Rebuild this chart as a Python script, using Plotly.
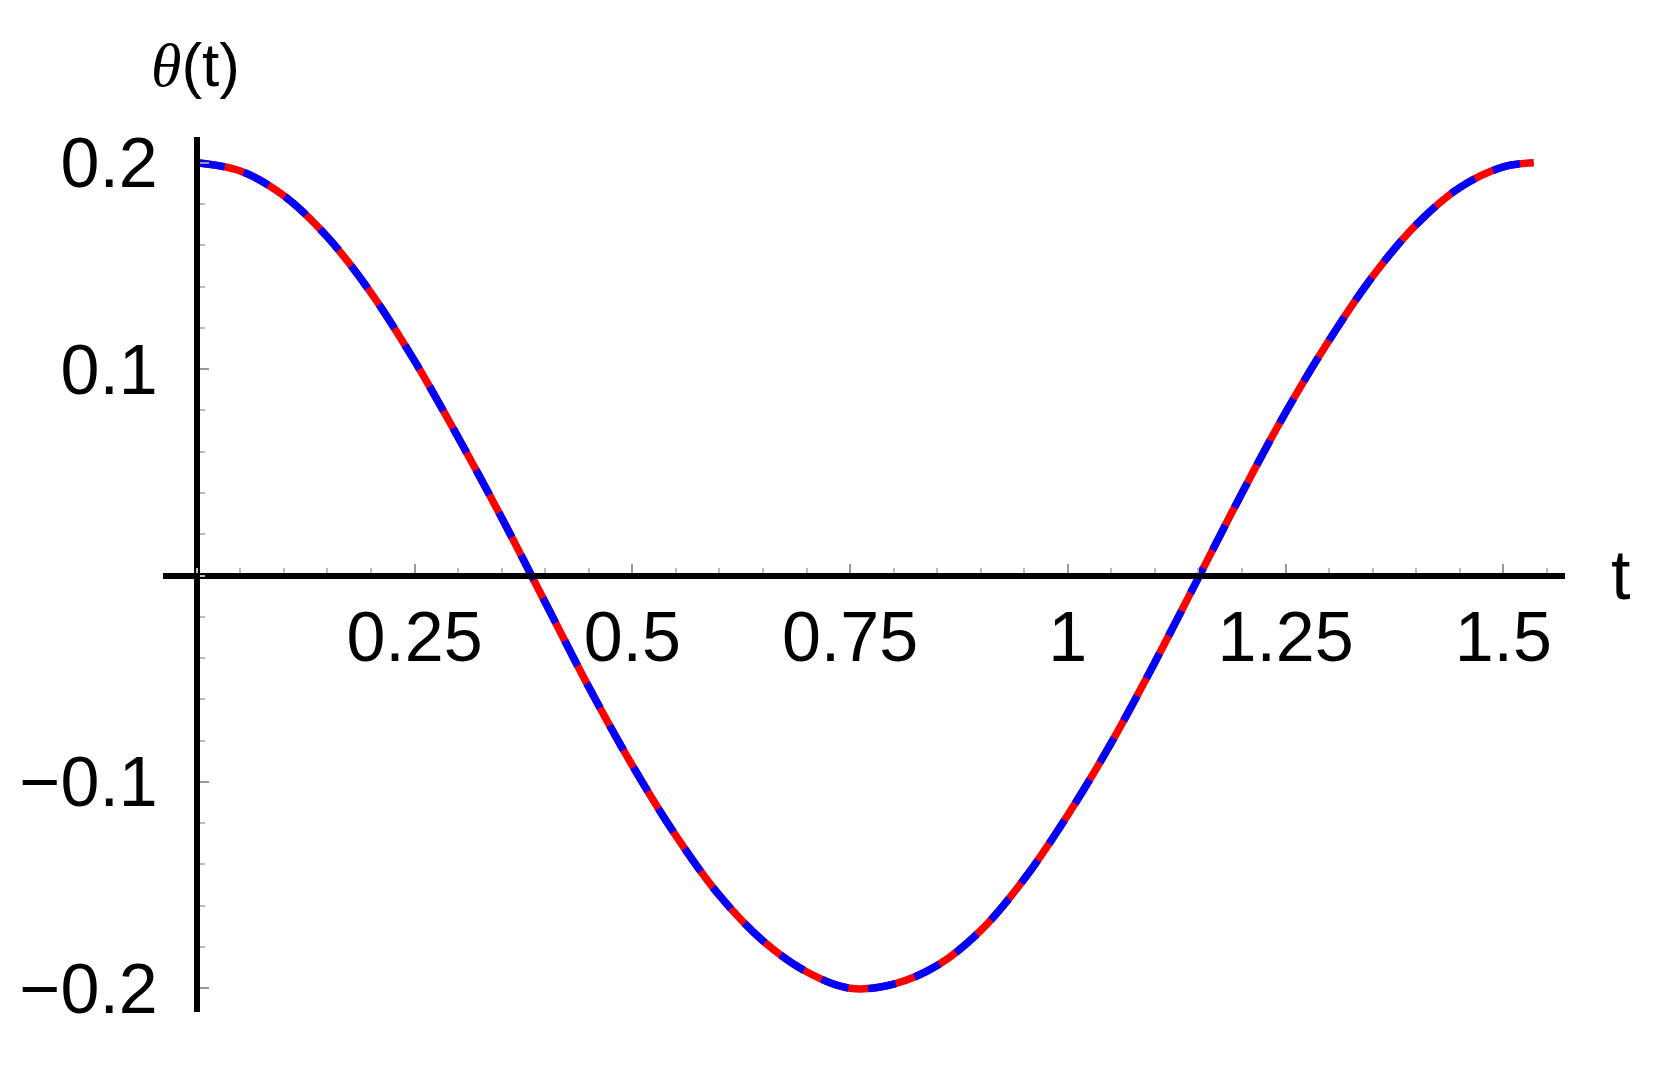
import plotly.graph_objects as go

# values
t_vals = [0.0, 0.05, 0.10, 0.15, 0.20, 0.25, 0.30, 0.35, 0.40, 0.45, 0.50,
          0.55, 0.60, 0.65, 0.70, 0.75, 0.80, 0.85, 0.90, 0.95, 1.00,
          1.05, 1.10, 1.15, 1.20, 1.25, 1.30, 1.35, 1.40, 1.45, 1.50, 1.535]
theta_vals = [0.200, 0.196, 0.184, 0.164, 0.137, 0.104, 0.067, 0.028, -0.013,
              -0.054, -0.092, -0.126, -0.155, -0.177, -0.192, -0.200, -0.198,
              -0.189, -0.172, -0.147, -0.116, -0.081, -0.042, -0.001, 0.040,
              0.079, 0.114, 0.145, 0.170, 0.188, 0.198, 0.200]

x_tickvals = [0.25, 0.5, 0.75, 1.0, 1.25, 1.5]
x_ticktext = ["0.25", "0.5", "0.75", "1", "1.25", "1.5"]
y_tickvals = [-0.2, -0.1, 0.1, 0.2]
y_ticktext = ["\u22120.2", "\u22120.1", "0.1", "0.2"]

x_range = [-0.0388, 1.5708]
y_range = [-0.2115, 0.2125]

tick_font = dict(family="Liberation Sans, Arial, sans-serif", size=70, color="black")

fig = go.Figure()
fig.add_trace(go.Scatter(
    x=t_vals, y=theta_vals, mode="lines", line_shape="spline",
    line=dict(color="#ff0000", width=7.5), showlegend=False,
))
fig.add_trace(go.Scatter(
    x=t_vals, y=theta_vals, mode="lines", line_shape="spline",
    line=dict(color="#0000ff", width=7.5, dash="28px,20px"), showlegend=False,
))

# axes cross at the origin
x_pos = (0 - y_range[0]) / (y_range[1] - y_range[0])
y_pos = (0 - x_range[0]) / (x_range[1] - x_range[0])

fig.update_xaxes(
    range=x_range, anchor="free", position=x_pos,
    showline=True, linewidth=6, linecolor="black",
    showgrid=False, zeroline=False,
    tickvals=x_tickvals, ticktext=x_ticktext,
    ticks="inside", ticklen=9, tickwidth=2, tickcolor="#999999",
    minor=dict(ticks="inside", ticklen=5, tickwidth=1.5, tickcolor="#bbbbbb",
               tick0=0, dtick=0.05),
    tickfont=tick_font, ticklabelstandoff=-2,
)
fig.update_yaxes(
    range=y_range, anchor="free", position=y_pos,
    showline=True, linewidth=6, linecolor="black",
    showgrid=False, zeroline=False,
    tickvals=y_tickvals, ticktext=y_ticktext,
    ticks="inside", ticklen=9, tickwidth=2, tickcolor="#999999",
    minor=dict(ticks="inside", ticklen=5, tickwidth=1.5, tickcolor="#bbbbbb",
               tick0=0, dtick=0.02),
    tickfont=tick_font, ticklabelstandoff=22,
)

fig.add_annotation(
    text="<span style='font-family:Liberation Serif'><i>θ</i></span>(t)",
    xref="paper", yref="paper", x=0.0234, y=1.0823,
    xanchor="center", yanchor="middle", showarrow=False,
    font=dict(family="Liberation Sans, Arial, sans-serif", size=62, color="black"),
)
fig.add_annotation(
    text="t", xref="paper", yref="paper", x=1.0397, y=0.4994,
    xanchor="center", yanchor="middle", showarrow=False,
    font=dict(family="Liberation Sans, Arial, sans-serif", size=70, color="black"),
)

# page body has an 8px margin, so the figure is 16px smaller than the window
fig.update_layout(
    width=1659, height=1056,
    margin=dict(l=147, r=102, t=129, b=52),
    paper_bgcolor="white", plot_bgcolor="white",
)

fig.write_html("out.html")
